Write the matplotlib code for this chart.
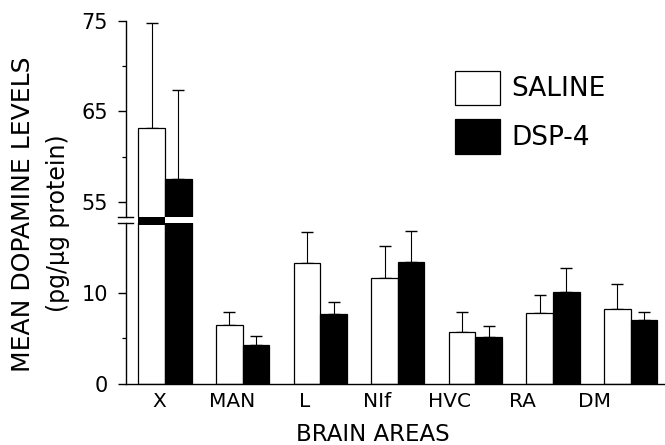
import matplotlib
matplotlib.use("Agg")
import matplotlib.pyplot as plt
from matplotlib.patches import Patch, Rectangle

# ---- data ----
areas = ["X", "MAN", "L", "NIf", "HVC", "RA", "DM"]
saline_mean = [63.2, 6.5, 13.3, 11.6, 5.7, 7.8, 8.2]
saline_sem = [11.6, 1.4, 3.4, 3.55, 2.15, 1.9, 2.8]
dsp4_mean = [57.5, 4.3, 7.7, 13.4, 5.1, 10.1, 7.0]
dsp4_sem = [9.9, 1.0, 1.3, 3.35, 1.2, 2.65, 0.9]
series_names = ["SALINE", "DSP-4"]

lower_ticks = [0, 10]
upper_ticks = [55, 65, 75]

# ---- style / layout ----
plt.rcParams["font.family"] = ["DejaVu Sans"]
W, H, DPI = 665, 445, 100
fig = plt.figure(figsize=(W / DPI, H / DPI), dpi=DPI)

left_px, right_px = 126, 664
ax_lo = fig.add_axes([left_px / W, (H - 384) / H, (right_px - left_px) / W, (384 - 223.3) / H])
ax_hi = fig.add_axes([left_px / W, (H - 216.5) / H, (right_px - left_px) / W, (216.5 - 20.7) / H])

lo_lim = (0, 17.6)
hi_lim = (53.4, 75)
bw = 0.342
x = list(range(len(areas)))
lw = 0.9

for ax in (ax_lo, ax_hi):
    ax.bar([i - bw / 2 for i in x], saline_mean, bw, color="white", edgecolor="black", linewidth=lw, zorder=2)
    ax.bar([i + bw / 2 for i in x], dsp4_mean, bw, color="black", edgecolor="black", linewidth=lw, zorder=2)
    ax.errorbar([i - bw / 2 for i in x], saline_mean, yerr=[[0] * len(x), saline_sem], fmt="none",
                ecolor="black", elinewidth=0.8, capsize=4.5, capthick=1.0, zorder=1)
    ax.errorbar([i + bw / 2 for i in x], dsp4_mean, yerr=[[0] * len(x), dsp4_sem], fmt="none",
                ecolor="black", elinewidth=0.8, capsize=4.5, capthick=1.0, zorder=1)
    ax.set_xlim(-0.503, 6.43)
    for s in ("top", "right"):
        ax.spines[s].set_visible(False)
    ax.spines["left"].set_linewidth(1.0)
    ax.tick_params(axis="y", which="major", length=6, width=1.0, direction="out", pad=7, labelsize=15)
    ax.tick_params(axis="y", which="minor", length=3, width=0.9, direction="out")

ax_lo.set_ylim(*lo_lim)
ax_hi.set_ylim(*hi_lim)
ax_lo.set_yticks(lower_ticks)
ax_lo.set_yticks([5], minor=True)
ax_hi.set_yticks(upper_ticks)
ax_hi.set_yticks([60, 70], minor=True)
ax_hi.spines["bottom"].set_visible(False)
ax_hi.set_xticks([])
ax_lo.spines["bottom"].set_linewidth(1.0)

# category labels (placed a bit left of group centres as in the reference)
label_pos = [-0.077 + 0.9356 * i for i in x]
ax_lo.set_xticks(label_pos)
ax_lo.set_xticklabels(areas, fontsize=14.5)
ax_lo.tick_params(axis="x", length=0, pad=6)

# break indicator across the X saline bar (black band) - the DSP-4 bar gets a white gap naturally
ax_lo.add_patch(Rectangle((x[0] - bw, 17.41), bw, 1.21, facecolor="black", edgecolor="black",
                          linewidth=0, clip_on=False, zorder=3))

# break marks on the axis
ax_lo.plot([-8 / 538, 7 / 538], [1.0, 1.0], color="black", lw=1.0, transform=ax_lo.transAxes, clip_on=False)
ax_hi.plot([-8 / 538, 7 / 538], [0.0, 0.0], color="black", lw=1.0, transform=ax_hi.transAxes, clip_on=False)

# axis titles
fig.text(23.5 / W, 1 - 214 / H, "MEAN DOPAMINE LEVELS", rotation=90, ha="center", va="center", fontsize=18)
fig.text(57.5 / W, 1 - 223.5 / H, "(pg/µg protein)", rotation=90, ha="center", va="center", fontsize=17)
fig.text(372.5 / W, 4 / H, "BRAIN AREAS", ha="center", va="baseline", fontsize=16.5)

# legend
handles = [Patch(facecolor="white", edgecolor="black", linewidth=lw),
           Patch(facecolor="black", edgecolor="black", linewidth=lw)]
fig.legend(handles, series_names, loc="upper left", bbox_to_anchor=(455 / W, 1 - 70.7 / H),
           bbox_transform=fig.transFigure, frameon=False, fontsize=19, handlelength=1.7,
           handleheight=1.62, handletextpad=0.42, labelspacing=0.55, borderpad=0, borderaxespad=0)

fig.savefig("out.png", dpi=DPI)
